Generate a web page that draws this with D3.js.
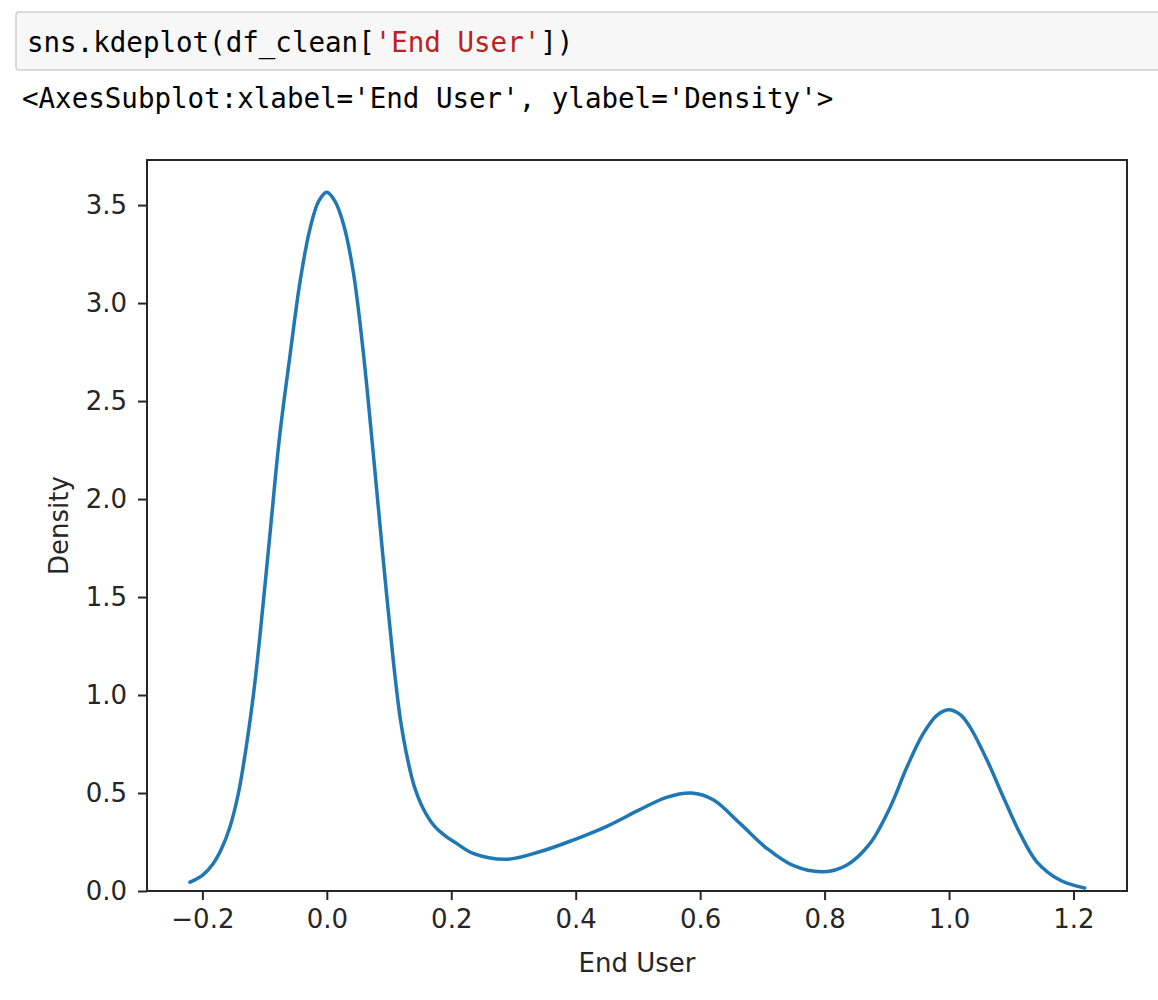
<!DOCTYPE html>
<html>
<head>
<meta charset="utf-8">
<script src="https://cdn.jsdelivr.net/npm/d3@7"></script>
<style>
  body { margin: 0; background: #fff; }
</style>
</head>
<body>
<svg id="chart"></svg>
<script>
// ----- Data -----
let xVals = [-0.220, -0.200, -0.183, -0.170, -0.156, -0.142, -0.129, -0.118, -0.108, -0.092, -0.076, -0.059,
             -0.043, -0.027, -0.013, 0.000, 0.013, 0.027, 0.043, 0.059, 0.075, 0.091, 0.107, 0.118, 0.128,
             0.140, 0.155, 0.172, 0.192, 0.2085, 0.235, 0.289, 0.342,
             0.396, 0.450, 0.503, 0.546, 0.586, 0.621, 0.664, 0.707, 0.750, 0.798, 0.836, 0.873, 0.905,
             0.932, 0.958, 0.980, 0.999, 1.018, 1.034, 1.061, 1.087, 1.114, 1.141, 1.178, 1.218]
let yVals = [0.045, 0.080, 0.138, 0.210, 0.324, 0.500, 0.746, 1.000, 1.286, 1.800, 2.316, 2.737,
             3.110, 3.380, 3.520, 3.565, 3.520, 3.400, 3.150, 2.737, 2.220, 1.680, 1.170, 0.880, 0.700,
             0.540, 0.420, 0.335, 0.277, 0.243, 0.192, 0.162, 0.200,
             0.260, 0.330, 0.415, 0.478, 0.500, 0.466, 0.345, 0.218, 0.129, 0.098, 0.133, 0.243, 0.425,
             0.630, 0.800, 0.895, 0.925, 0.900, 0.835, 0.668, 0.481, 0.294, 0.149, 0.056, 0.015]

let xTicks = [-0.2, 0.0, 0.2, 0.4, 0.6, 0.8, 1.0, 1.2]
let yTicks = [0.0, 0.5, 1.0, 1.5, 2.0, 2.5, 3.0, 3.5]

let xLabel = 'End User'
let yLabel = 'Density'

// ----- SVG -----
let svgWidth = 1158
let svgHeight = 1000
let svg = d3.select('#chart')
            .attr('width', svgWidth)
            .attr('height', svgHeight)

// notebook cell on top
svg.append('rect')
   .attr('x', 16)
   .attr('y', 12)
   .attr('width', 1160)
   .attr('height', 58)
   .attr('rx', 3)
   .attr('fill', '#f7f7f7')
   .attr('stroke', '#cfcfcf')
   .attr('stroke-width', 1.5)

let codeText = svg.append('text')
   .attr('x', 27)
   .attr('y', 52)
   .attr('font-family', 'DejaVu Sans Mono, monospace')
   .attr('font-size', '27.5px')
   .attr('fill', '#000')
codeText.append('tspan').text('sns.kdeplot(df_clean[')
codeText.append('tspan').attr('fill', '#ba2121').text("'End User'")
codeText.append('tspan').text('])')

svg.append('text')
   .attr('x', 22)
   .attr('y', 108)
   .attr('font-family', 'DejaVu Sans Mono, monospace')
   .attr('font-size', '27.5px')
   .attr('fill', '#000')
   .text("<AxesSubplot:xlabel='End User', ylabel='Density'>")

// ----- Axes -----
let plotLeft = 147
let plotRight = 1127
let plotTop = 160
let plotBottom = 891

let x = d3.scaleLinear().domain([-0.289, 1.286]).range([plotLeft, plotRight])
let y = d3.scaleLinear().domain([0, 3.73]).range([plotBottom, plotTop])

let tickFont = 'DejaVu Sans, sans-serif'
let axisColor = '#262626'

// x axis
let xAxis = svg.append('g')
   .attr('transform', 'translate(0,' + plotBottom + ')')
   .call(d3.axisBottom(x).tickValues(xTicks).tickSize(9).tickPadding(10)
           .tickFormat(function (d) { return d3.format('.1f')(d).replace('-', '\u2212') }))
xAxis.select('.domain').remove()
xAxis.selectAll('line').attr('stroke', axisColor).attr('stroke-width', 2)
xAxis.selectAll('text')
     .attr('font-family', tickFont)
     .attr('font-size', '26px')
     .attr('fill', axisColor)

// y axis
let yAxis = svg.append('g')
   .attr('transform', 'translate(' + plotLeft + ',0)')
   .call(d3.axisLeft(y).tickValues(yTicks).tickSize(9).tickPadding(11)
           .tickFormat(d3.format('.1f')))
yAxis.select('.domain').remove()
yAxis.selectAll('line').attr('stroke', axisColor).attr('stroke-width', 2)
yAxis.selectAll('text')
     .attr('font-family', tickFont)
     .attr('font-size', '26px')
     .attr('fill', axisColor)

// frame (spines)
svg.append('rect')
   .attr('x', plotLeft)
   .attr('y', plotTop)
   .attr('width', plotRight - plotLeft)
   .attr('height', plotBottom - plotTop)
   .attr('fill', 'none')
   .attr('stroke', axisColor)
   .attr('stroke-width', 2)

// ----- Curve -----
let points = xVals.map(function (d, i) { return [d, yVals[i]] })
let line = d3.line()
             .x(function (d) { return x(d[0]) })
             .y(function (d) { return y(d[1]) })
             .curve(d3.curveCatmullRom.alpha(0.5))

svg.append('path')
   .datum(points)
   .attr('d', line)
   .attr('fill', 'none')
   .attr('stroke', '#1f77b4')
   .attr('stroke-width', 3.5)
   .attr('stroke-linecap', 'round')
   .attr('stroke-linejoin', 'round')

// ----- Labels -----
svg.append('text')
   .attr('x', (plotLeft + plotRight) / 2)
   .attr('y', 972)
   .attr('text-anchor', 'middle')
   .attr('font-family', tickFont)
   .attr('font-size', '26px')
   .attr('fill', axisColor)
   .text(xLabel)

svg.append('text')
   .attr('transform', 'translate(68,' + (plotTop + plotBottom) / 2 + ') rotate(-90)')
   .attr('text-anchor', 'middle')
   .attr('font-family', tickFont)
   .attr('font-size', '26px')
   .attr('fill', axisColor)
   .text(yLabel)
</script>
</body>
</html>
